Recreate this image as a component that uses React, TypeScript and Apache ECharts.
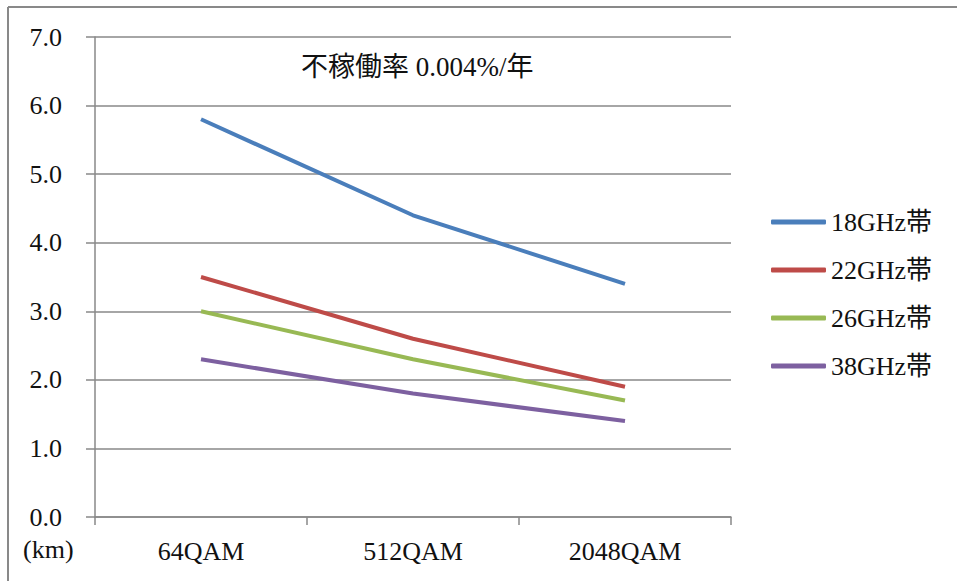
import React, { useEffect, useRef } from "react";
import * as echarts from "echarts";

const categories = ["64QAM", "512QAM", "2048QAM"];
const seriesNames = ["18GHz帯", "22GHz帯", "26GHz帯", "38GHz帯"];
const s18 = [5.8, 4.4, 3.4];
const s22 = [3.5, 2.6, 1.9];
const s26 = [3.0, 2.3, 1.7];
const s38 = [2.3, 1.8, 1.4];
const colors = ["#4A7EBB", "#BE4B48", "#98B954", "#7D60A0"];
const titleText = "不稼働率 0.004%/年";
const unitText = "(km)";

const FONT = "'Liberation Serif', 'Noto Sans CJK JP', serif";
const GRAY = "#898989";

export default function App() {
  const ref = useRef<HTMLDivElement>(null);
  useEffect(() => {
    document.body.style.margin = "0";
    const chart = echarts.init(ref.current!, null, { renderer: "svg" });
    const data = [s18, s22, s26, s38];
    chart.setOption({
      animation: false,
      backgroundColor: "#ffffff",
      textStyle: { fontFamily: FONT },
      grid: { left: 95, right: 226, top: 37, bottom: 64, containLabel: false },
      xAxis: {
        type: "category",
        data: categories,
        boundaryGap: true,
        axisLine: { show: true, lineStyle: { color: GRAY, width: 1.5 } },
        axisTick: { show: true, length: 8, interval: 0, lineStyle: { color: GRAY, width: 1.5 } },
        axisLabel: { color: "#111", fontSize: 26, fontFamily: FONT, margin: 21 },
        splitLine: { show: false },
      },
      yAxis: {
        type: "value",
        min: 0,
        max: 7,
        interval: 1,
        axisLine: { show: true, lineStyle: { color: GRAY, width: 1.5 } },
        axisTick: { show: true, length: 9, lineStyle: { color: GRAY, width: 1.5 } },
        axisLabel: {
          color: "#111",
          fontSize: 26,
          fontFamily: FONT,
          margin: 33,
          formatter: (v: number) => v.toFixed(1),
        },
        splitLine: { show: true, lineStyle: { color: GRAY, width: 1.5 } },
      },
      legend: {
        orient: "vertical",
        left: 771,
        top: 209,
        padding: 0,
        itemWidth: 55,
        itemHeight: 5,
        itemGap: 22,
        icon: "roundRect",
        textStyle: { fontSize: 26, fontFamily: FONT, color: "#111" },
        data: seriesNames,
      },
      series: seriesNames.map((name, i) => ({
        name,
        type: "line",
        data: data[i],
        showSymbol: false,
        symbol: "none",
        color: colors[i],
        lineStyle: { width: 4, color: colors[i] },
      })),
      graphic: [
        {
          type: "line",
          shape: { x1: 8, y1: 7, x2: 957, y2: 7 },
          style: { stroke: GRAY, lineWidth: 2 },
        },
        {
          type: "line",
          shape: { x1: 8, y1: 7, x2: 8, y2: 581 },
          style: { stroke: GRAY, lineWidth: 2 },
        },
        {
          type: "text",
          left: 301,
          top: 53,
          style: { text: titleText, fontSize: 27, fontFamily: FONT, fill: "#111" },
        },
        {
          type: "text",
          left: 23,
          top: 536,
          style: { text: unitText, fontSize: 26, fontFamily: FONT, fill: "#111" },
        },
      ],
    });
    return () => chart.dispose();
  }, []);
  return <div ref={ref} style={{ width: 957, height: 581 }} />;
}
